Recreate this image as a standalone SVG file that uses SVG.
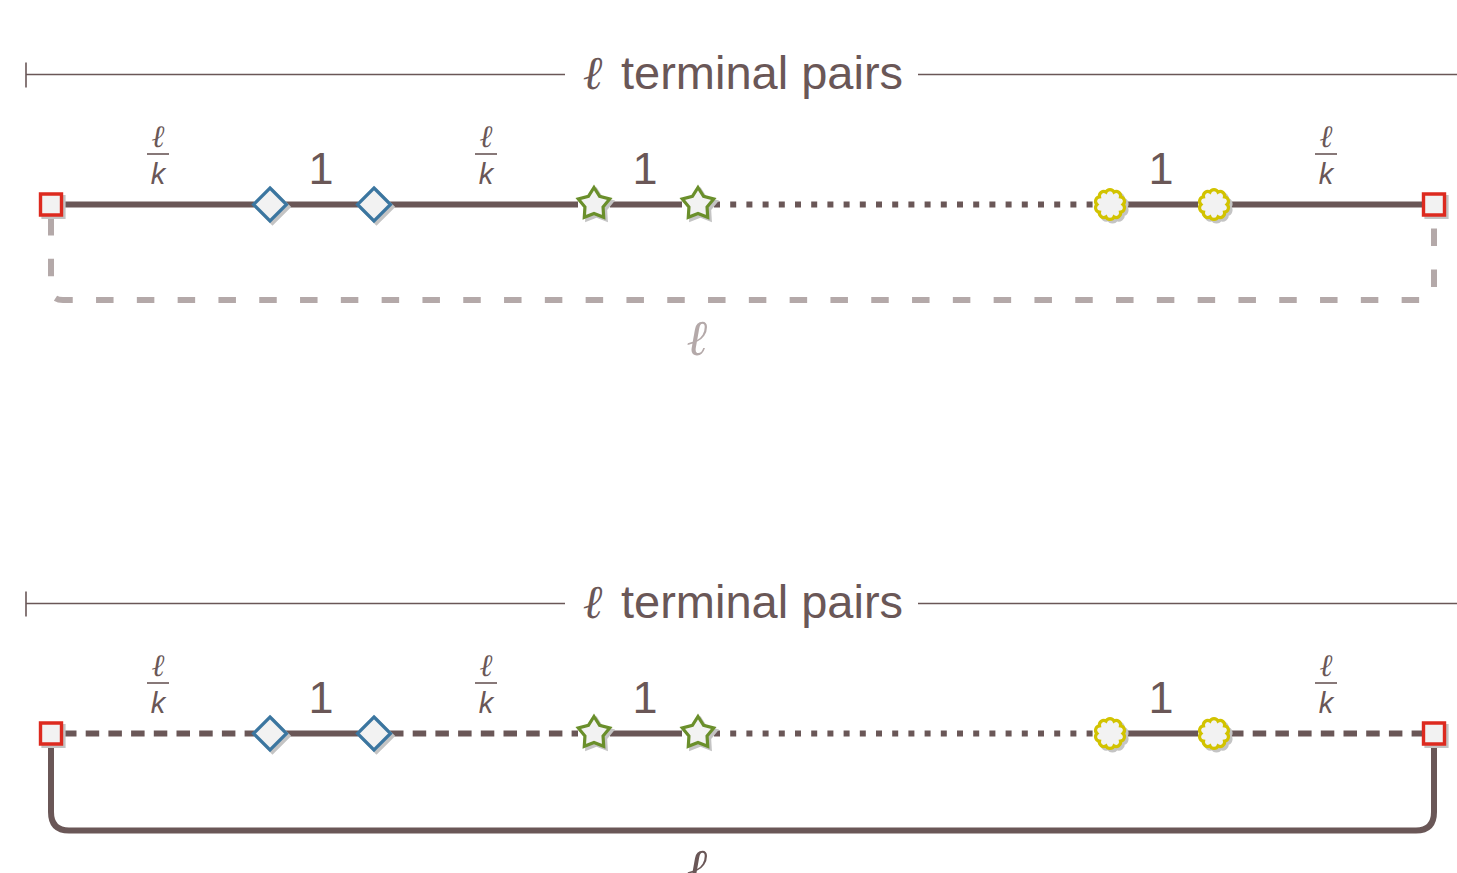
<svg xmlns="http://www.w3.org/2000/svg" xmlns:xlink="http://www.w3.org/1999/xlink" width="1457" height="873" viewBox="0 0 1457 873">
<style>
.thin{stroke:#6a5757;stroke-width:1.6;fill:none}
.edge{stroke:#6a5757;stroke-width:6;fill:none;stroke-linecap:butt}
.dot{stroke-dasharray:6 10.2}
.dash{stroke-dasharray:13.5 9.2}
.ghost{stroke:#b4a9a9;stroke-width:6;fill:none;stroke-dasharray:17.5 23.3;stroke-dashoffset:-2}
.sh{fill:#c4c4c4;stroke:#c4c4c4;stroke-width:3.2}
.sq{fill:#f2f2f2;stroke:#dd2a1f;stroke-width:3.4}
.dm{fill:#f2f2f2;stroke:#3b76a0;stroke-width:3.2;stroke-linejoin:miter}
.st{fill:#f2f2f2;stroke:#6a8f2b;stroke-width:3.2;stroke-linejoin:miter}
.fl{fill:#f2f2f2;stroke:#d2c300;stroke-width:3.2}
.sans{font-family:"Liberation Sans",Arial,sans-serif;fill:#6a5757}
.ell{font-family:"Liberation Serif","DejaVu Serif",serif;font-style:italic;fill:#6a5757}
.kk{font-family:"Liberation Sans",Arial,sans-serif;font-style:italic;fill:#6a5757}
.gl{font-family:"Liberation Serif","DejaVu Serif",serif;font-style:italic;fill:#b4a9a9}
</style>
<defs>
<path id="square" d="M-10.5,-10.5H10.5V10.5H-10.5Z"/>
<path id="diamond" d="M0,-16.5L16.5,0L0,16.5L-16.5,0Z"/>
<path id="star" d="M0,-16.5L5.6,-7.7L15.69,-5.1L9.05,2.94L9.7,13.35L0,9.5L-9.7,13.35L-9.05,2.94L-15.69,-5.1L-5.6,-7.7Z"/>
<path id="flower" d="M13,0A4.4,4.4 0 0 1 10.52,7.64A4.4,4.4 0 0 1 4.02,12.36A4.4,4.4 0 0 1 -4.02,12.36A4.4,4.4 0 0 1 -10.52,7.64A4.4,4.4 0 0 1 -13,0A4.4,4.4 0 0 1 -10.52,-7.64A4.4,4.4 0 0 1 -4.02,-12.36A4.4,4.4 0 0 1 4.02,-12.36A4.4,4.4 0 0 1 10.52,-7.64A4.4,4.4 0 0 1 13,0Z"/>
</defs>

<!-- ===== TOP PANEL ===== -->
<g id="top">
  <g id="top-header">
    <line class="thin" x1="26" y1="74.5" x2="565" y2="74.5"/>
    <line class="thin" x1="26" y1="62.5" x2="26" y2="87.5"/>
    <line class="thin" x1="918" y1="74.5" x2="1457" y2="74.5"/>
    <text class="ell" x="592.5" y="89" font-size="47" text-anchor="middle">ℓ</text>
    <text class="sans" x="621" y="89" font-size="47">terminal pairs</text>
  </g>
  <g id="top-connectors">
    <path class="ghost" d="M51,216V288Q51,300 63,300H1422Q1434,300 1434,288V216"/>
    <line class="edge" x1="62" y1="204.5" x2="254" y2="204.5"/>
    <line class="edge" x1="286" y1="204.5" x2="358" y2="204.5"/>
    <line class="edge" x1="390" y1="204.5" x2="578" y2="204.5"/>
    <line class="edge" x1="610" y1="204.5" x2="682" y2="204.5"/>
    <line class="edge dot" x1="714" y1="204.5" x2="1096" y2="204.5"/>
    <line class="edge" x1="1126" y1="204.5" x2="1198" y2="204.5"/>
    <line class="edge" x1="1230" y1="204.5" x2="1423" y2="204.5"/>
  </g>
  <g id="top-labels">
    <text class="ell" x="158" y="147" font-size="31" text-anchor="middle">ℓ</text>
    <line class="thin" x1="147" y1="154" x2="169" y2="154"/>
    <text class="kk" x="158" y="184" font-size="29" text-anchor="middle">k</text>
    <text class="sans" x="321" y="184" font-size="45" text-anchor="middle">1</text>
    <text class="ell" x="486" y="147" font-size="31" text-anchor="middle">ℓ</text>
    <line class="thin" x1="475" y1="154" x2="497" y2="154"/>
    <text class="kk" x="486" y="184" font-size="29" text-anchor="middle">k</text>
    <text class="sans" x="645" y="184" font-size="45" text-anchor="middle">1</text>
    <text class="sans" x="1161" y="184" font-size="45" text-anchor="middle">1</text>
    <text class="ell" x="1326" y="147" font-size="31" text-anchor="middle">ℓ</text>
    <line class="thin" x1="1315" y1="154" x2="1337" y2="154"/>
    <text class="kk" x="1326" y="184" font-size="29" text-anchor="middle">k</text>
    <text class="gl" x="697" y="355" font-size="50" text-anchor="middle">ℓ</text>
  </g>
  <g id="top-s1"><use href="#square" class="sh" x="53.5" y="207"/><use href="#square" class="sq" x="51" y="204.5"/></g>
  <g id="top-d1"><use href="#diamond" class="sh" x="272.5" y="207"/><use href="#diamond" class="dm" x="270" y="204.5"/></g>
  <g id="top-d2"><use href="#diamond" class="sh" x="376.5" y="207"/><use href="#diamond" class="dm" x="374" y="204.5"/></g>
  <g id="top-p1"><use href="#star" class="sh" x="596.5" y="206.5"/><use href="#star" class="st" x="594" y="204"/></g>
  <g id="top-p2"><use href="#star" class="sh" x="700.5" y="206.5"/><use href="#star" class="st" x="698" y="204"/></g>
  <g id="top-f1"><use href="#flower" class="sh" x="1112.5" y="207"/><use href="#flower" class="fl" x="1110" y="204.5"/></g>
  <g id="top-f2"><use href="#flower" class="sh" x="1216.5" y="207"/><use href="#flower" class="fl" x="1214" y="204.5"/></g>
  <g id="top-s2"><use href="#square" class="sh" x="1436.5" y="207"/><use href="#square" class="sq" x="1434" y="204.5"/></g>
</g>

<!-- ===== BOTTOM PANEL ===== -->
<g id="bottom" transform="translate(0,529)">
  <g id="bottom-header">
    <line class="thin" x1="26" y1="74.5" x2="565" y2="74.5"/>
    <line class="thin" x1="26" y1="62.5" x2="26" y2="87.5"/>
    <line class="thin" x1="918" y1="74.5" x2="1457" y2="74.5"/>
    <text class="ell" x="592.5" y="89" font-size="47" text-anchor="middle">ℓ</text>
    <text class="sans" x="621" y="89" font-size="47">terminal pairs</text>
  </g>
  <g id="bottom-connectors">
    <path class="edge" d="M51,215V283Q51,301.5 69,301.5H1416Q1434,301.5 1434,283V215"/>
    <line class="edge dash" x1="63" y1="204.5" x2="254" y2="204.5"/>
    <line class="edge" x1="286" y1="204.5" x2="358" y2="204.5"/>
    <line class="edge dash" x1="390" y1="204.5" x2="578" y2="204.5"/>
    <line class="edge" x1="610" y1="204.5" x2="682" y2="204.5"/>
    <line class="edge dot" x1="714" y1="204.5" x2="1096" y2="204.5"/>
    <line class="edge" x1="1126" y1="204.5" x2="1198" y2="204.5"/>
    <line class="edge dash" x1="1230" y1="204.5" x2="1423" y2="204.5"/>
  </g>
  <g id="bottom-labels">
    <text class="ell" x="158" y="147" font-size="31" text-anchor="middle">ℓ</text>
    <line class="thin" x1="147" y1="154" x2="169" y2="154"/>
    <text class="kk" x="158" y="184" font-size="29" text-anchor="middle">k</text>
    <text class="sans" x="321" y="184" font-size="45" text-anchor="middle">1</text>
    <text class="ell" x="486" y="147" font-size="31" text-anchor="middle">ℓ</text>
    <line class="thin" x1="475" y1="154" x2="497" y2="154"/>
    <text class="kk" x="486" y="184" font-size="29" text-anchor="middle">k</text>
    <text class="sans" x="645" y="184" font-size="45" text-anchor="middle">1</text>
    <text class="sans" x="1161" y="184" font-size="45" text-anchor="middle">1</text>
    <text class="ell" x="1326" y="147" font-size="31" text-anchor="middle">ℓ</text>
    <line class="thin" x1="1315" y1="154" x2="1337" y2="154"/>
    <text class="kk" x="1326" y="184" font-size="29" text-anchor="middle">k</text>
    <text class="ell" x="697" y="355" font-size="50" text-anchor="middle">ℓ</text>
  </g>
  <g id="bottom-s1"><use href="#square" class="sh" x="53.5" y="207"/><use href="#square" class="sq" x="51" y="204.5"/></g>
  <g id="bottom-d1"><use href="#diamond" class="sh" x="272.5" y="207"/><use href="#diamond" class="dm" x="270" y="204.5"/></g>
  <g id="bottom-d2"><use href="#diamond" class="sh" x="376.5" y="207"/><use href="#diamond" class="dm" x="374" y="204.5"/></g>
  <g id="bottom-p1"><use href="#star" class="sh" x="596.5" y="206.5"/><use href="#star" class="st" x="594" y="204"/></g>
  <g id="bottom-p2"><use href="#star" class="sh" x="700.5" y="206.5"/><use href="#star" class="st" x="698" y="204"/></g>
  <g id="bottom-f1"><use href="#flower" class="sh" x="1112.5" y="207"/><use href="#flower" class="fl" x="1110" y="204.5"/></g>
  <g id="bottom-f2"><use href="#flower" class="sh" x="1216.5" y="207"/><use href="#flower" class="fl" x="1214" y="204.5"/></g>
  <g id="bottom-s2"><use href="#square" class="sh" x="1436.5" y="207"/><use href="#square" class="sq" x="1434" y="204.5"/></g>
</g>
</svg>
